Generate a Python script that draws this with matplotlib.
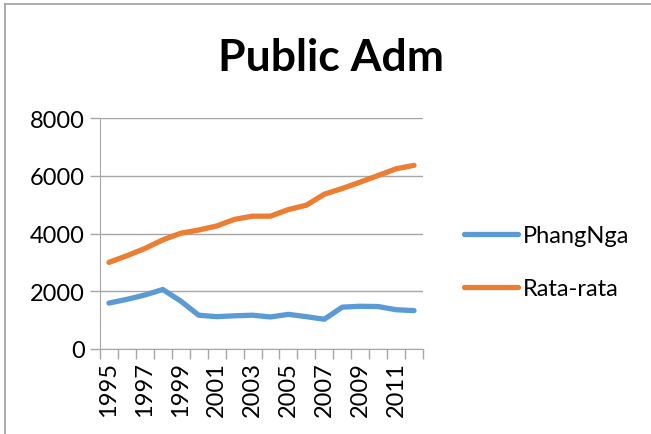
import numpy as np
import matplotlib
matplotlib.use("Agg")
import matplotlib.pyplot as plt

plt.rcParams['font.family'] = ['Lato', 'DejaVu Sans']

years = list(range(1995, 2013))
phangnga = [1590, 1720, 1870, 2060, 1660, 1170, 1120, 1150, 1170, 1110,
            1200, 1120, 1030, 1450, 1480, 1470, 1360, 1330]
rata_rata = [3000, 3230, 3480, 3780, 4010, 4120, 4260, 4490, 4600, 4600,
             4830, 4980, 5360, 5560, 5780, 6010, 6240, 6360]
yticks = [0, 2000, 4000, 6000, 8000]

BLUE = '#5B9BD5'
ORANGE = '#ED7D31'
GRID = '#A6A6A6'

fig = plt.figure(figsize=(6.51, 4.35), dpi=100)
ax = fig.add_axes([100 / 651, 85 / 435, 323 / 651, 231 / 435])

x = np.arange(len(years))
ax.plot(x, phangnga, color=BLUE, lw=3.8, solid_capstyle='round', label='PhangNga')
ax.plot(x, rata_rata, color=ORANGE, lw=3.8, solid_capstyle='round', label='Rata-rata')

ax.set_xlim(-0.5, len(years) - 0.5)
ax.set_ylim(0, 8000)
ax.set_yticks(yticks)
ax.set_yticklabels([str(v) for v in yticks], fontsize=17)
ax.yaxis.grid(True, color=GRID, lw=1)
ax.set_axisbelow(True)

# labels every other year, tick marks between categories
ax.set_xticks(x[::2])
ax.set_xticklabels([str(y) for y in years[::2]], rotation=90, fontsize=17)
ax.set_xticks(np.arange(-0.5, len(years)), minor=True)
ax.tick_params(axis='x', which='major', length=0, pad=9)
ax.tick_params(axis='x', which='minor', length=7, color=GRID, width=1)
ax.tick_params(axis='y', length=7, color=GRID, width=1, pad=4)

for side in ['top', 'right']:
    ax.spines[side].set_visible(False)
ax.spines['left'].set_color(GRID)
ax.spines['bottom'].set_color(GRID)

fig.text(331 / 651, 1 - 58 / 435, 'Public Adm', fontsize=32, fontweight='bold',
         ha='center', va='center')

ax.legend(loc='center left', bbox_to_anchor=(1.06, 0.375), frameon=False,
          fontsize=17, handlelength=2.3, handletextpad=0.2, labelspacing=1.35)

# chart area border (left and top visible)
fig.add_artist(plt.Line2D([5 / 651, 5 / 651], [0, 1 - 5 / 435], color='#A0A0A0', lw=1.2))
fig.add_artist(plt.Line2D([5 / 651, 1], [1 - 5 / 435, 1 - 5 / 435], color='#A0A0A0', lw=1.2))

fig.savefig('out.png', dpi=100)
